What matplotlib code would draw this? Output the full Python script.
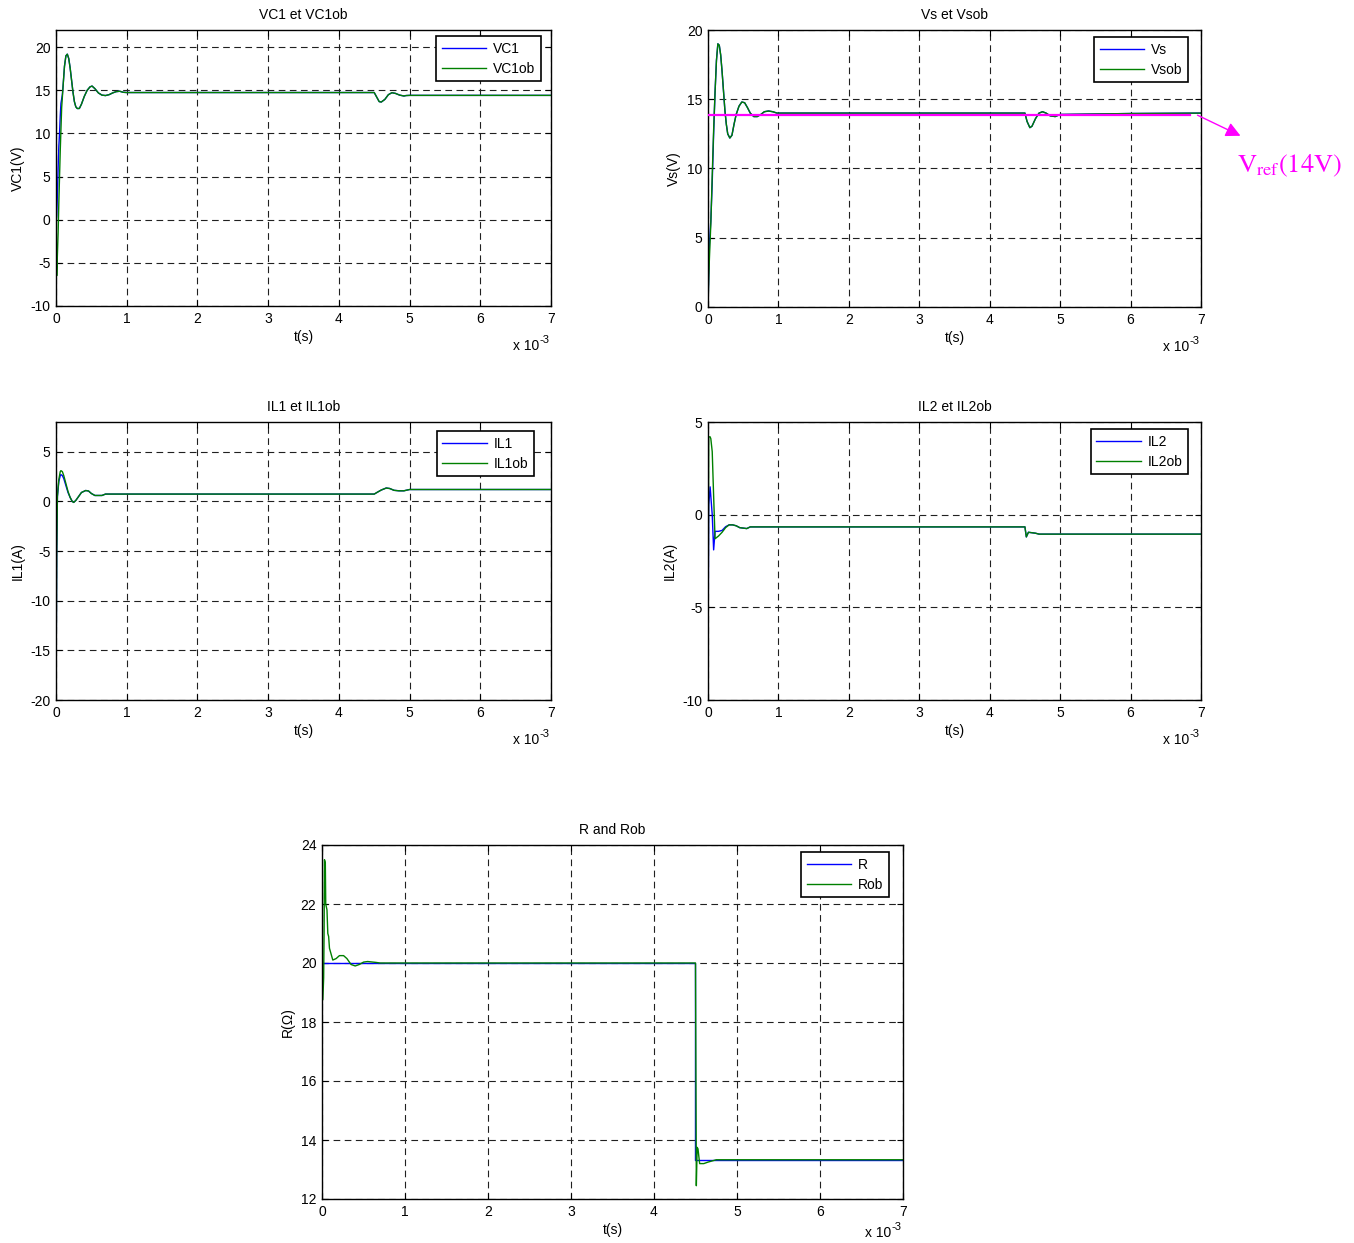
import numpy as np
import matplotlib
matplotlib.use("Agg")
import matplotlib.pyplot as plt

plt.rcParams['font.family'] = ['Liberation Sans', 'DejaVu Sans']
plt.rcParams['font.size'] = 10
plt.rcParams['axes.unicode_minus'] = False

# ---------------- data (time in ms) ----------------
t_vc1 = [0, 0.005, 0.01, 0.02, 0.03, 0.04, 0.05, 0.06, 0.07, 0.08, 0.09, 0.10, 0.12,
         0.14, 0.16, 0.18, 0.20, 0.22, 0.24, 0.26, 0.28, 0.30, 0.33, 0.36, 0.40,
         0.44, 0.48, 0.51, 0.55, 0.60, 0.65, 0.70, 0.75, 0.80, 0.85, 0.90, 0.95,
         1.0, 4.5, 4.53, 4.57, 4.60, 4.65, 4.70, 4.75, 4.80, 4.86, 4.92, 4.95, 5.0, 7.0]
vc1 = [-1, 0.0, 0.5, 3, 6, 8.5, 10, 12, 13.5, 14.0, 14.5, 15.5, 17.8,
       19.0, 19.2, 18.7, 17.6, 16.2, 14.8, 13.7, 13.1, 12.9, 12.9, 13.4, 14.3,
       15.0, 15.4, 15.5, 15.2, 14.7, 14.45, 14.4, 14.5, 14.7, 14.85, 14.9, 14.78,
       14.75, 14.75, 14.3, 13.7, 13.65, 13.95, 14.5, 14.73, 14.65, 14.45, 14.35, 14.4, 14.42, 14.42]
vc1ob = [11, -3, -6.5, -4, -1.5, 2, 5, 8, 10.5, 13, 14.2, 15.5, 17.8,
         19.0, 19.2, 18.7, 17.6, 16.2, 14.8, 13.7, 13.1, 12.9, 12.9, 13.4, 14.3,
         15.0, 15.4, 15.5, 15.2, 14.7, 14.45, 14.4, 14.5, 14.7, 14.85, 14.9, 14.78,
         14.75, 14.75, 14.3, 13.7, 13.65, 13.95, 14.5, 14.73, 14.65, 14.45, 14.35, 14.4, 14.42, 14.42]

t_vs = [0, 0.01, 0.02, 0.04, 0.06, 0.08, 0.10, 0.12, 0.14, 0.16, 0.18, 0.20, 0.22,
        0.24, 0.26, 0.28, 0.31, 0.34, 0.37, 0.40, 0.44, 0.48, 0.52, 0.56, 0.60,
        0.65, 0.70, 0.75, 0.80, 0.86, 0.92, 0.98, 4.5, 4.53, 4.57, 4.60, 4.65,
        4.70, 4.75, 4.80, 4.86, 4.93, 5.0, 6.0, 7.0]
vs = [0, 2.2, 4.5, 6.2, 9, 12.5, 15.5, 17.8, 19.0, 18.9, 18.2, 17.0, 15.6,
      14.2, 13.2, 12.5, 12.2, 12.4, 13.2, 13.9, 14.5, 14.8, 14.75, 14.4, 14.0,
      13.75, 13.75, 13.9, 14.1, 14.15, 14.1, 14.0, 14.0, 13.4, 12.95, 13.05, 13.6,
      14.0, 14.1, 14.0, 13.8, 13.75, 13.9, 13.97, 14.0]
vsob = [0, 2.0, 3.5, 6.0, 9.5, 12.8, 15.5, 17.8, 19.0, 18.9, 18.2, 17.0, 15.6,
        14.2, 13.2, 12.5, 12.2, 12.4, 13.2, 13.9, 14.5, 14.8, 14.75, 14.4, 14.0,
        13.75, 13.75, 13.9, 14.1, 14.15, 14.1, 14.0, 14.0, 13.4, 12.95, 13.05, 13.6,
        14.0, 14.1, 14.0, 13.8, 13.75, 13.9, 13.97, 14.0]
vref_t = [0, 6.85]
vref = [13.87, 13.87]

t_il1 = [0, 0.01, 0.02, 0.04, 0.06, 0.07, 0.09, 0.11, 0.14, 0.17, 0.20, 0.23, 0.25,
         0.28, 0.32, 0.36, 0.42, 0.46, 0.50, 0.55, 0.60, 0.65, 0.70, 4.5, 4.55,
         4.60, 4.67, 4.72, 4.78, 4.85, 4.92, 4.95, 5.0, 7.0]
il1 = [-20, -5, 0.5, 2.0, 2.6, 2.7, 2.6, 2.3, 1.6, 0.9, 0.4, 0.0, -0.1,
       0.1, 0.5, 0.9, 1.1, 1.05, 0.8, 0.6, 0.6, 0.6, 0.74, 0.74, 0.95,
       1.15, 1.35, 1.3, 1.12, 1.07, 1.07, 1.12, 1.2, 1.2]
il1ob = [-20, -5, 0.5, 2.2, 3.0, 3.1, 3.0, 2.6, 1.8, 1.0, 0.4, 0.0, -0.1,
         0.1, 0.5, 0.9, 1.1, 1.05, 0.8, 0.6, 0.6, 0.6, 0.74, 0.74, 0.95,
         1.15, 1.35, 1.3, 1.12, 1.07, 1.07, 1.12, 1.2, 1.2]

t_il2 = [0, 0.01, 0.03, 0.04, 0.06, 0.08, 0.10, 0.15, 0.20, 0.25, 0.30, 0.35, 0.40,
         0.45, 0.55, 0.60, 4.5, 4.52, 4.55, 4.65, 4.70, 7.0]
il2 = [-8.5, 0.5, 1.5, 1.0, 0.0, -1.9, -0.9, -0.9, -0.85, -0.65, -0.55, -0.55, -0.6,
       -0.7, -0.75, -0.66, -0.66, -1.2, -0.95, -1.0, -1.05, -1.05]
il2ob = [-8.5, 4.2, 4.2, 4.1, 3.4, 1.0, -1.3, -1.15, -0.95, -0.7, -0.55, -0.55, -0.6,
         -0.7, -0.75, -0.66, -0.66, -1.2, -0.95, -1.0, -1.05, -1.05]

t_r = [0, 4.49, 4.49, 7.0]
r = [20, 20, 13.33, 13.33]
t_rob = [0, 0.01, 0.02, 0.025, 0.03, 0.04, 0.045, 0.06, 0.07, 0.08, 0.09, 0.11, 0.13,
         0.17, 0.21, 0.26, 0.30, 0.35, 0.40, 0.45, 0.50, 0.55, 0.65, 0.70, 4.5,
         4.51, 4.52, 4.53, 4.55, 4.60, 4.65, 4.75, 7.0]
rob = [19.8, 18.75, 19.5, 21, 23.5, 23.4, 22, 21.8, 21.0, 20.9, 20.5, 20.3, 20.1,
       20.15, 20.25, 20.25, 20.15, 19.95, 19.9, 19.95, 20.03, 20.05, 20.02, 20.0, 20.0,
       12.45, 13.75, 13.7, 13.2, 13.2, 13.25, 13.33, 13.33]

xticks = [0, 1, 2, 3, 4, 5, 6, 7]

BLUE = '#0000ff'
GREEN = '#008000'

W, H = 1354, 1243
fig = plt.figure(figsize=(W / 100, H / 100), dpi=100)


def box(l, t, r_, b):
    return [l / W, 1 - b / H, (r_ - l) / W, (b - t) / H]


def style(ax, title, ylabel, ylim, yticks, exp_dy=44, leg_r=10, leg_t=6):
    ax.set_xlim(0, 7)
    ax.set_ylim(*ylim)
    ax.set_xticks(xticks)
    ax.set_yticks(yticks)
    ax.grid(True, color='#202020', linestyle=(0, (6, 4)), linewidth=0.8)
    ax.set_axisbelow(True)
    ax.tick_params(direction='in', length=4, top=True, right=True, pad=4,
                   labelsize=10, width=0.8)
    for s in ax.spines.values():
        s.set_linewidth(1.0)
    ax.set_title(title, fontsize=10, pad=8)
    ax.set_xlabel('t(s)', fontsize=10, labelpad=3)
    ax.set_ylabel(ylabel, fontsize=10, labelpad=4)
    # MATLAB-like exponent label "x 10^-3"
    ax.annotate('x 10', xy=(1, 0), xycoords='axes fraction',
                xytext=(-12 * 0.72, -exp_dy * 0.72), textcoords='offset points',
                ha='right', va='baseline', fontsize=10)
    ax.annotate('-3', xy=(1, 0), xycoords='axes fraction',
                xytext=(-11.5 * 0.72, -(exp_dy - 7) * 0.72), textcoords='offset points',
                ha='left', va='baseline', fontsize=8)
    bb = ax.get_position()
    wpx, hpx = bb.width * W, bb.height * H
    leg = ax.legend(loc='upper right', fancybox=False, framealpha=1,
                    edgecolor='black', handlelength=3.2, borderpad=0.4,
                    labelspacing=0.45, fontsize=10, handletextpad=0.5,
                    borderaxespad=0,
                    bbox_to_anchor=(1 - leg_r / wpx, 1 - leg_t / hpx))
    leg.get_frame().set_linewidth(1.2)


ax1 = fig.add_axes(box(56, 30, 551, 306))
ax1.plot(t_vc1, vc1, color=BLUE, lw=1, label='VC1')
ax1.plot(t_vc1, vc1ob, color=GREEN, lw=1, label='VC1ob')
style(ax1, 'VC1 et VC1ob', 'VC1(V)', (-10, 22), [-10, -5, 0, 5, 10, 15, 20],
      leg_r=10, leg_t=6)

ax2 = fig.add_axes(box(708, 30, 1201, 307))
ax2.plot(t_vs, vs, color=BLUE, lw=1, label='Vs')
ax2.plot(t_vs, vsob, color=GREEN, lw=1, label='Vsob')
ax2.plot(vref_t, vref, color='#ff00ff', lw=1.6, zorder=3)
style(ax2, 'Vs et Vsob', 'Vs(V)', (0, 20), [0, 5, 10, 15, 20], leg_r=13, leg_t=7)
ax2.annotate('', xy=(1243, H - 137), xytext=(1195, H - 114),
             xycoords='figure pixels', textcoords='figure pixels',
             arrowprops=dict(arrowstyle='-|>', color='#ff00ff', lw=1,
                             mutation_scale=22), annotation_clip=False)
fig.text(1237 / W, 1 - 172 / H, r'$\mathrm{V}_{\mathrm{ref}}\mathrm{(14V)}$',
         color='#ff00ff', fontsize=19, math_fontfamily='stix',
         ha='left', va='baseline')

ax3 = fig.add_axes(box(56, 422, 551, 700))
ax3.plot(t_il1, il1, color=BLUE, lw=1, label='IL1')
ax3.plot(t_il1, il1ob, color=GREEN, lw=1, label='IL1ob')
style(ax3, 'IL1 et IL1ob', 'IL1(A)', (-20, 8), [-20, -15, -10, -5, 0, 5],
      leg_r=17, leg_t=9)

ax4 = fig.add_axes(box(708, 422, 1201, 700))
ax4.plot(t_il2, il2, color=BLUE, lw=1, label='IL2')
ax4.plot(t_il2, il2ob, color=GREEN, lw=1, label='IL2ob')
style(ax4, 'IL2 et IL2ob', 'IL2(A)', (-10, 5), [-10, -5, 0, 5], leg_r=13, leg_t=7)

ax5 = fig.add_axes(box(322, 845, 903, 1199))
ax5.plot(t_r, r, color=BLUE, lw=1, label='R')
ax5.plot(t_rob, rob, color=GREEN, lw=1, label='Rob')
style(ax5, 'R and Rob', 'R(Ω)', (12, 24), [12, 14, 16, 18, 20, 22, 24],
      exp_dy=38, leg_r=14, leg_t=7)

fig.savefig('out.png', dpi=100)
